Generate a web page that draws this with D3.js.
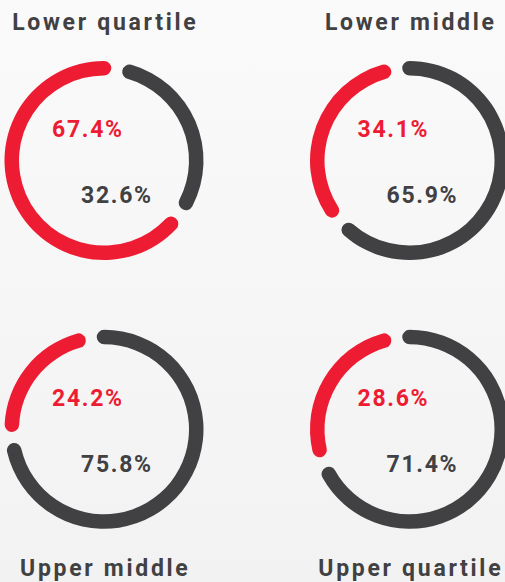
<!DOCTYPE html>
<html>
<head>
<meta charset="utf-8">
<script src="https://cdn.jsdelivr.net/npm/d3@7"></script>
<style>
  html, body { margin: 0; padding: 0; }
  body { width: 505px; height: 582px; overflow: hidden; }
  .title { font-family: Roboto, "DejaVu Sans", sans-serif; font-weight: 700; font-size: 23px; letter-spacing: 2.7px; fill: #414042; }
  .pct { font-family: Roboto, "DejaVu Sans", sans-serif; font-weight: 700; font-size: 23px; letter-spacing: 1.7px; }
</style>
</head>
<body>
<div id="chart"></div>
<script>
// data
var groups = ["Lower quartile", "Lower middle", "Upper middle", "Upper quartile"]
var red_share = [67.4, 34.1, 24.2, 28.6]
var dark_share = [32.6, 65.9, 75.8, 71.4]

var width = 505
    height = 582
    red = "#ed1c33"
    dark = "#414042"
    r_in = 85
    r_out = 99.5
    gap = 7 * Math.PI / 180           // empty space between two arcs
    cap = (r_out - r_in) / 2 / ((r_in + r_out) / 2) // angle taken by a round end

var svg = d3.select("#chart")
    .append("svg")
    .attr("width", width)
    .attr("height", height)

// soft grey background
var grad = svg.append("defs").append("linearGradient")
    .attr("id", "bg")
    .attr("x1", 0).attr("y1", 0).attr("x2", 0).attr("y2", 1)
grad.append("stop").attr("offset", "0%").attr("stop-color", "#fafafa")
grad.append("stop").attr("offset", "100%").attr("stop-color", "#f2f2f2")
svg.append("rect")
    .attr("width", width)
    .attr("height", height)
    .attr("fill", "url(#bg)")

// 2x2 grid
var x_col = d3.scaleOrdinal().domain([0, 1]).range([104, 409.5])
var y_row = d3.scaleOrdinal().domain([0, 1]).range([160.5, 429.3])

var arc = d3.arc()
    .innerRadius(r_in)
    .outerRadius(r_out)
    .cornerRadius((r_out - r_in) / 2)
    .startAngle(function(d) { return d.startAngle + gap / 2 })
    .endAngle(function(d) { return d.endAngle - gap / 2 })

groups.forEach(function(name, i) {
  var col = i % 2
      row = Math.floor(i / 2)
      cx = x_col(col)
      cy = y_row(row)

  // the bigger arc touches 12 o'clock, the gap sits on the smaller one's side
  var turn = (dark_share[i] > red_share[i] ? -1 : 1) * (gap / 2 + cap)
  var pie = d3.pie()
      .sort(null)
      .startAngle(turn)
      .endAngle(turn + 2 * Math.PI)
  var slices = pie([dark_share[i], red_share[i]])

  var g = svg.append("g")
      .attr("transform", "translate(" + cx + "," + cy + ")")

  g.selectAll("path")
    .data(slices)
    .enter().append("path")
      .attr("d", arc)
      .attr("fill", function(d, k) { return k == 0 ? dark : red })

  g.append("text")
      .attr("class", "pct")
      .attr("x", -52)
      .attr("y", -23.5)
      .attr("fill", red)
      .text(red_share[i].toFixed(1) + "%")

  g.append("text")
      .attr("class", "pct")
      .attr("x", -23)
      .attr("y", 42.5)
      .attr("fill", dark)
      .text(dark_share[i].toFixed(1) + "%")

  svg.append("text")
      .attr("class", "title")
      .attr("text-anchor", "middle")
      .attr("x", cx + 1.3)   // letter-spacing adds a trailing gap
      .attr("y", row == 0 ? 30 : 576)
      .text(name)
})
</script>
</body>
</html>
